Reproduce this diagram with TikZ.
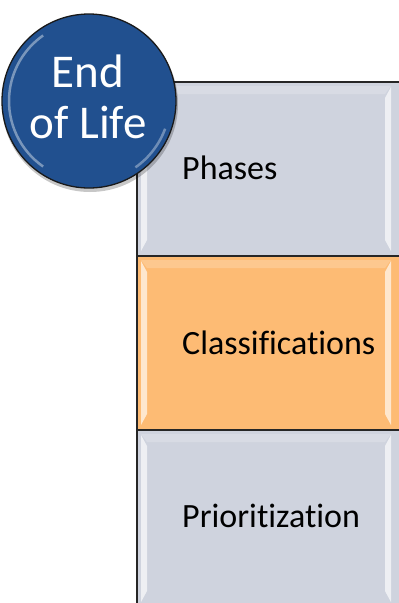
\documentclass[tikz,border=0pt]{standalone}
\usepackage{fontspec}
\setmainfont[Ligatures=NoCommon]{Carlito}
\begin{document}
\begin{tikzpicture}[x=1pt,y=-1pt,
  boxbase/.style={draw=black!85,line width=1.4pt},
  bevel/.style={fill=white,opacity=0.65},
  boxtext/.style={anchor=base west,inner sep=0pt,font=\fontsize{34}{40}\selectfont,text=black},
  circtext/.style={anchor=base,inner sep=0pt,font=\fontsize{47}{56}\selectfont,text=white}]
\definecolor{grayfill}{HTML}{CFD3DE}
\definecolor{orangefill}{HTML}{FDBB74}
\definecolor{circblue}{HTML}{21508F}
\useasboundingbox (0,0) rectangle (399,603);
\clip (0,0) rectangle (399,603);
% boxes
\foreach \t/\b/\c/\n in {82/256/grayfill/b1,256/430/orangefill/b2,430/607/grayfill/b3}{
  \draw[boxbase,fill=\c] (137,\t) rectangle (405,\b);
  \fill[bevel] (141,\t+5) -- (147,\t+16) -- (147,\b-16) -- (141,\b-5) -- cycle;
  \fill[bevel] (391,\t+5) -- (385,\t+16) -- (385,\b-16) -- (391,\b-5) -- cycle;
  \fill[white,opacity=0.2] (141,\t+4) -- (391,\t+4) -- (385,\t+12) -- (147,\t+12) -- cycle;
}
\node[boxtext] (phases) at (182,179) {Phases};
\node[boxtext] (classif) at (182,354) {Classifications};
\node[boxtext] (prior) at (182,527) {Prioritization};
% circle
\fill[black,opacity=0.22] (90,104) circle (88);
\node[circle,draw=black!90,line width=1.3pt,fill=circblue,minimum size=174pt,inner sep=0pt] (eol) at (89,101) {};
\draw[white,opacity=0.4,line width=2.5pt] ([shift={(89,101)}]125:80) arc[start angle=125,end angle=235,radius=80];
\draw[white,opacity=0.35,line width=2.5pt] ([shift={(89,101)}]20:81) arc[start angle=20,end angle=55,radius=81];
\node[circtext] (end) at (88,87) {End};
\node[circtext] (life) at (88,138) {of Life};
\end{tikzpicture}
\end{document}
